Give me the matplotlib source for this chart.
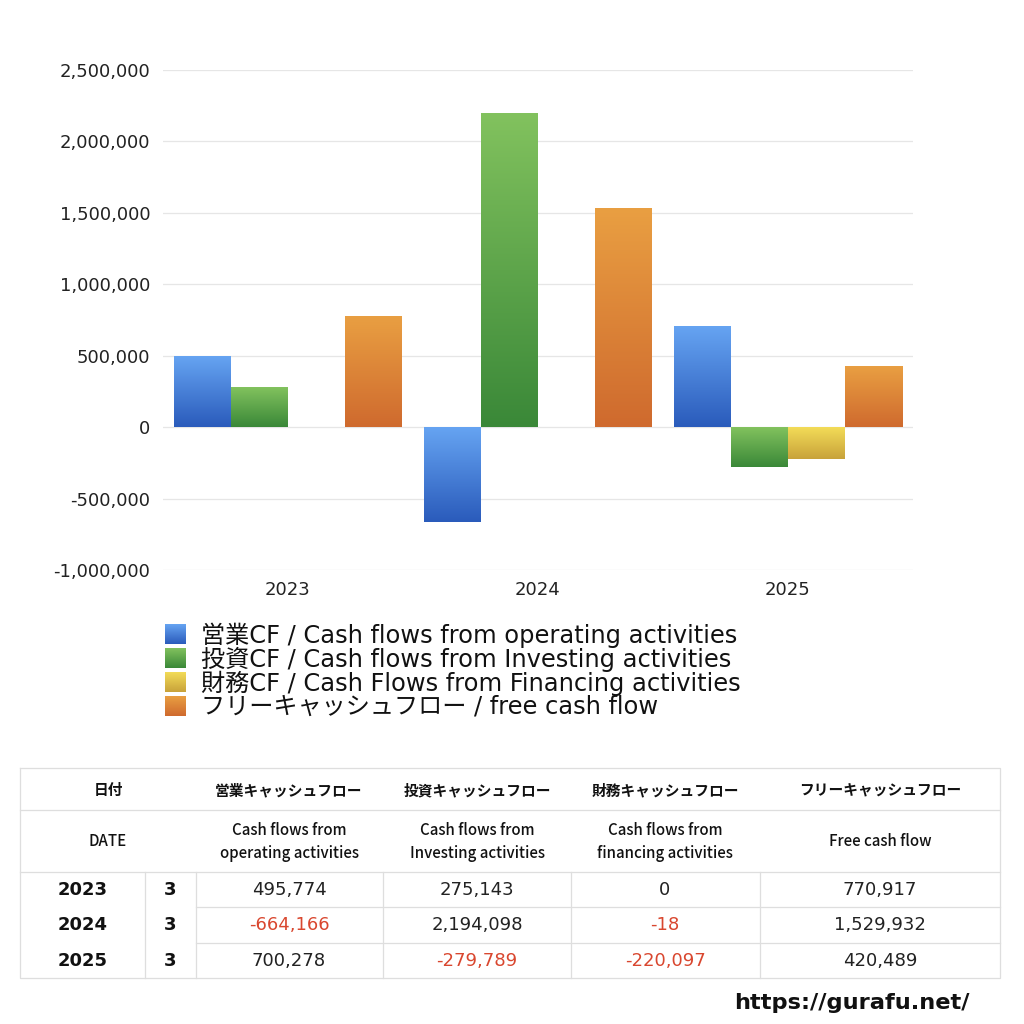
import numpy as np
import matplotlib
matplotlib.use("Agg")
import matplotlib.pyplot as plt
from matplotlib.colors import LinearSegmentedColormap

plt.rcParams['font.family'] = ['DejaVu Sans', 'Noto Sans CJK JP']
JP = ['Noto Sans CJK JP', 'DejaVu Sans']

# ---------------- data ----------------
years = ["2023", "2024", "2025"]
months = ["3", "3", "3"]
operating_cf = [495774, -664166, 700278]
investing_cf = [275143, 2194098, -279789]
financing_cf = [0, -18, -220097]
free_cf = [770917, 1529932, 420489]

series_labels = [
    "営業CF / Cash flows from operating activities",
    "投資CF / Cash flows from Investing activities",
    "財務CF / Cash Flows from Financing activities",
    "フリーキャッシュフロー / free cash flow",
]
table_head_jp = ["日付", "営業キャッシュフロー", "投資キャッシュフロー", "財務キャッシュフロー", "フリーキャッシュフロー"]
table_head_en = ["DATE", "Cash flows from\noperating activities", "Cash flows from\nInvesting activities",
                 "Cash flows from\nfinancing activities", "Free cash flow"]
yticks = [-1000000, -500000, 0, 500000, 1000000, 1500000, 2000000, 2500000]
url_text = "https://gurafu.net/"

# gradient colours (top, bottom)
grads = [("#66a4f2", "#2a5bbb"),
         ("#82c25e", "#3a8838"),
         ("#f3dc58", "#c8a23a"),
         ("#e99f42", "#cf6a2e")]

W = H = 1024
fig = plt.figure(figsize=(10.24, 10.24), dpi=100)

# ---------------- bar chart ----------------
ax = fig.add_axes([163 / W, 1 - 570 / H, 750 / W, 500 / H])
ax.set_xlim(-0.5, 2.5)
ax.set_ylim(-1000000, 2500000)
x = np.arange(len(years))
bw = 0.228
all_series = [operating_cf, investing_cf, financing_cf, free_cf]
grad_img = np.linspace(0, 1, 256).reshape(-1, 1)
px_per_unit = 500 / 3500000
for i, vals in enumerate(all_series):
    cmap = LinearSegmentedColormap.from_list(f"g{i}", [grads[i][0], grads[i][1]])
    bars = ax.bar(x + (i - 1.5) * bw, vals, width=bw, color="none", edgecolor="none", zorder=2)
    for b in bars:
        bx, by = b.get_x(), b.get_y()
        bwid, bh = b.get_width(), b.get_height()
        if abs(bh) * px_per_unit < 0.5:
            continue
        top = max(by, by + bh)
        bot = min(by, by + bh)
        ax.imshow(grad_img, cmap=cmap, aspect="auto", origin="upper",
                  extent=[bx, bx + bwid, bot, top], zorder=2, interpolation="bilinear")
ax.set_xlim(-0.5, 2.5)
ax.set_ylim(-1000000, 2500000)
ax.set_yticks(yticks)
ax.set_yticklabels([f"{v:,}" for v in yticks], fontsize=13, color="#222222")
ax.set_xticks(x)
ax.set_xticklabels(years, fontsize=13, color="#222222")
ax.tick_params(length=0)
ax.tick_params(axis="y", pad=9)
ax.tick_params(axis="x", pad=8)
ax.grid(axis="y", color="#e6e6e6", linewidth=0.9, zorder=0)
ax.set_axisbelow(True)
for s in ax.spines.values():
    s.set_visible(False)

# ---------------- overlay (legend, table, url) ----------------
ov = fig.add_axes([0, 0, 1, 1])
ov.set_xlim(0, W)
ov.set_ylim(H, 0)
ov.axis("off")

# legend
leg_y = [634, 658, 682, 706]
for i, lab in enumerate(series_labels):
    cmap = LinearSegmentedColormap.from_list(f"l{i}", [grads[i][0], grads[i][1]])
    ov.imshow(grad_img, cmap=cmap, aspect="auto", origin="upper",
              extent=[165, 186, leg_y[i] + 10, leg_y[i] - 10], interpolation="bilinear")
    ov.text(201, leg_y[i] + 1, lab, fontsize=17.4, va="center", ha="left", color="#111111")
ov.set_xlim(0, W)
ov.set_ylim(H, 0)

# table
lc = "#dedede"
lw = 0.9
ov.plot([20, 1000, 1000, 20, 20], [768, 768, 978, 978, 768], color=lc, lw=lw)
ov.plot([20, 1000], [810, 810], color=lc, lw=lw)
ov.plot([20, 1000], [872, 872], color=lc, lw=lw)
ov.plot([196, 1000], [907, 907], color=lc, lw=lw)
ov.plot([196, 1000], [943, 943], color=lc, lw=lw)
for vx in [145, 196, 383, 571, 760]:
    ov.plot([vx, vx], [872, 978], color=lc, lw=lw)

col_cx = [108, 289, 477, 665, 880]
for cx, t in zip(col_cx, table_head_jp):
    ov.text(cx, 790, t, fontsize=10.6, fontweight="bold", ha="center", va="center",
            color="#111111", family=JP)
for cx, t in zip(col_cx, table_head_en):
    ov.text(cx, 842, t, fontsize=10.8, fontweight="medium", ha="center", va="center",
            color="#111111", linespacing=1.5, family=JP)

row_y = [890, 925, 961]
for r in range(len(years)):
    ov.text(83, row_y[r], years[r], fontsize=13, fontweight="bold", ha="center", va="center", color="#111111")
    ov.text(170, row_y[r], months[r], fontsize=13, fontweight="bold", ha="center", va="center", color="#111111")
    for c, vals in enumerate(all_series):
        v = vals[r]
        col = "#d9472f" if v < 0 else "#222222"
        ov.text(col_cx[c + 1], row_y[r], f"{v:,}", fontsize=13, ha="center", va="center", color=col)

ov.text(852, 1003, url_text, fontsize=16.2, fontweight="bold", ha="center", va="center",
        color="#111111")

fig.savefig("out.png", dpi=100, facecolor="white")
